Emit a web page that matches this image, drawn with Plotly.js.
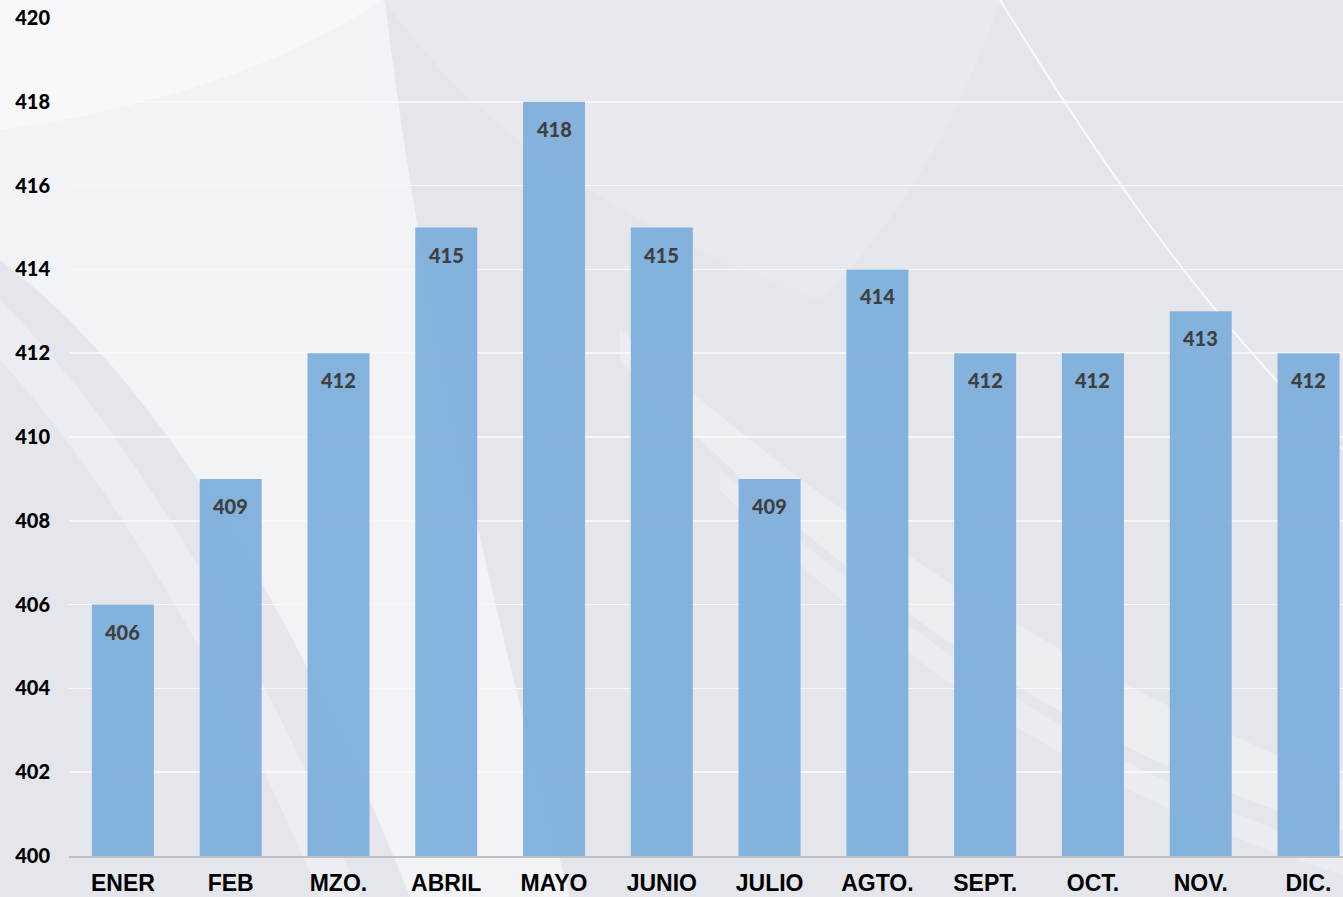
<!DOCTYPE html>
<html>
<head>
<meta charset="utf-8">
<script src="https://cdn.plot.ly/plotly-3.0.1.min.js"></script>
<style>html,body{margin:0;padding:0;background:#e4e6ec;}#chart{width:1343px;height:897px;}</style>
</head>
<body>
<div id="chart"></div>
<script>
// ---- data ----
const months = ["ENER", "FEB", "MZO.", "ABRIL", "MAYO", "JUNIO", "JULIO", "AGTO.", "SEPT.", "OCT.", "NOV.", "DIC."];
const values = [406, 409, 412, 415, 418, 415, 409, 414, 412, 412, 413, 412];
const yTicks = [400, 402, 404, 406, 408, 410, 412, 414, 416, 418, 420];

// ---- layout geometry ----
const W = 1343, H = 897;
const M = {l: 69, r: 0, t: 18, b: 41};
const PW = W - M.l - M.r, PH = H - M.t - M.b;
// decorative background: pixel coords -> paper coords
function P(px, py) { return ((px - M.l) / PW).toFixed(4) + ',' + ((H - M.b - py) / PH).toFixed(4); }
function path(cmds) {
  return cmds.map(c => {
    if (c.length === 1) return c[0];
    const pts = [];
    for (let i = 1; i < c.length; i += 2) pts.push(P(c[i], c[i + 1]));
    return c[0] + ' ' + pts.join(' ');
  }).join(' ');
}
const bgShapes = [
  {d: [['M',0,0],['L',385,0],['C',420,300,490,600,570,897],['L',410,897],['C',300,620,160,380,0,260],['Z']], c: 'rgba(255,255,255,0.5)'},
  {d: [['M',0,0],['L',380,0],['C',300,60,150,110,0,130],['Z']], c: 'rgba(255,255,255,0.45)'},
  {d: [['M',0,300],['C',130,430,260,650,360,897],['L',320,897],['C',230,680,110,480,0,360],['Z']], c: 'rgba(255,255,255,0.3)'},
  {d: [['M',385,0],['L',1000,0],['C',960,120,900,220,820,300],['C',650,240,480,140,385,0],['Z']], c: 'rgba(255,255,255,0.15)'},
  {d: [['M',620,330],['C',900,580,1150,710,1343,780],['L',1343,830],['C',1120,770,870,620,620,360],['Z']], c: 'rgba(255,255,255,0.28)'},
  {d: [['M',720,470],['C',960,690,1160,790,1343,855],['L',1343,875],['C',1150,815,950,715,720,490],['Z']], c: 'rgba(255,255,255,0.25)'}
];
const shapes = bgShapes.map(s => ({
  type: 'path', xref: 'paper', yref: 'paper', layer: 'below',
  path: path(s.d), fillcolor: s.c, line: {width: 0}
}));
shapes.push({type: 'path', xref: 'paper', yref: 'paper', layer: 'below',
  path: path([['M',1000,0],['C',1080,130,1190,300,1343,450]]),
  fillcolor: 'rgba(0,0,0,0)', line: {color: 'rgba(255,255,255,0.75)', width: 2}});

const annotations = months.map((m, i) => ({
  x: m, y: values[i], xref: 'x', yref: 'y', text: String(values[i]),
  showarrow: false, yanchor: 'middle', yshift: -27,
  font: {family: 'Lato, "Open Sans", sans-serif', size: 20, color: '#404040', weight: 900}
}));

const trace = {
  type: 'bar', x: months, y: values, width: 0.575,
  marker: {color: 'rgba(124,173,219,0.93)', line: {width: 0}},
  hoverinfo: 'x+y'
};

const layout = {
  width: W, height: H, margin: M,
  paper_bgcolor: '#e4e6ec', plot_bgcolor: 'rgba(0,0,0,0)',
  showlegend: false, bargap: 0.425,
  xaxis: {
    type: 'category', range: [-0.5, 11.32], showgrid: false, zeroline: false,
    showline: true, linecolor: '#bfbfbf', linewidth: 2,
    ticks: 'outside', ticklen: 5, tickcolor: 'rgba(0,0,0,0)',
    tickfont: {family: '"Liberation Sans", Arial, sans-serif', size: 23, color: '#000', weight: 700}
  },
  yaxis: {
    range: [400, 420], tickvals: yTicks, ticktext: yTicks.map(String),
    showgrid: true, gridcolor: 'rgba(248,248,250,0.9)', gridwidth: 1.5, zeroline: false,
    ticks: 'outside', ticklen: 14, tickcolor: 'rgba(0,0,0,0)',
    tickfont: {family: 'Lato, "Open Sans", sans-serif', size: 20, color: '#000', weight: 900}
  },
  shapes: shapes, annotations: annotations
};
Plotly.newPlot('chart', [trace], layout, {displayModeBar: false, staticPlot: true});
</script>
</body>
</html>
